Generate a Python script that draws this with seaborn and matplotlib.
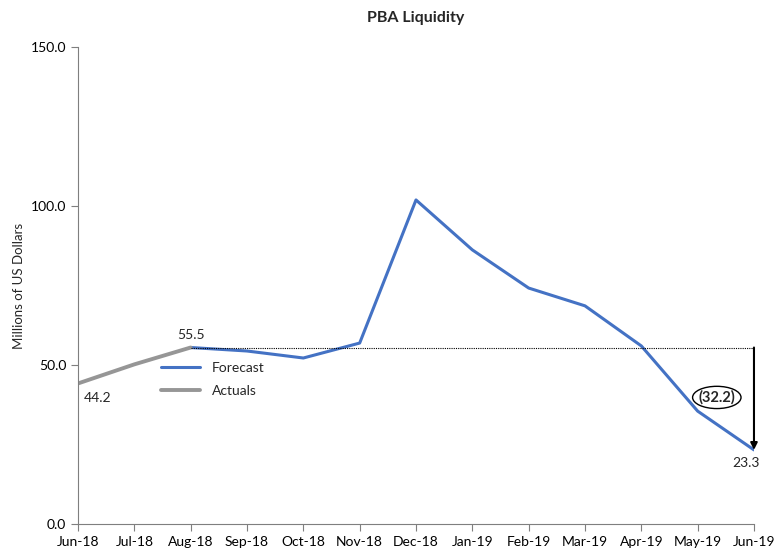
import matplotlib
matplotlib.use("Agg")
import matplotlib.pyplot as plt
import seaborn as sns
import pandas as pd
from matplotlib.patches import Ellipse

months = ["Jun-18", "Jul-18", "Aug-18", "Sep-18", "Oct-18", "Nov-18", "Dec-18",
          "Jan-19", "Feb-19", "Mar-19", "Apr-19", "May-19", "Jun-19"]
actual_months = ["Jun-18", "Jul-18", "Aug-18"]
actual_values = [44.2, 50.2, 55.5]
forecast_months = ["Aug-18", "Sep-18", "Oct-18", "Nov-18", "Dec-18", "Jan-19",
                   "Feb-19", "Mar-19", "Apr-19", "May-19", "Jun-19"]
forecast_values = [55.5, 54.4, 52.2, 56.9, 101.9, 86.2, 74.2, 68.6, 56.0, 35.5, 23.3]
yticks = [0, 50, 100, 150]
gap_label = "(32.2)"

sns.set_style("ticks")
plt.rcParams['font.family'] = ['Lato', 'DejaVu Sans']

idx = {m: i for i, m in enumerate(months)}
df_f = pd.DataFrame({"x": [idx[m] for m in forecast_months], "y": forecast_values})
df_a = pd.DataFrame({"x": [idx[m] for m in actual_months], "y": actual_values})

fig = plt.figure(figsize=(7.81, 5.52), dpi=100)
ax = fig.add_axes([0.0999, 0.0507, 0.8655, 0.8642])

sns.lineplot(data=df_f, x="x", y="y", ax=ax, color="#4472C4", linewidth=2.2, label="Forecast")
sns.lineplot(data=df_a, x="x", y="y", ax=ax, color="#969696", linewidth=2.8, label="Actuals")

ax.set_xlim(0, len(months) - 1)
ax.set_ylim(0, 150)
ax.set_xticks(range(len(months)))
ax.set_xticklabels(months, fontsize=10)
ax.set_yticks(yticks)
ax.set_yticklabels([f"{v:.1f}" for v in yticks], fontsize=10)
ax.set_xlabel("")
ax.set_ylabel("Millions of US Dollars", fontsize=9.5)
ax.set_title("PBA Liquidity", fontsize=11.5, fontweight="bold", pad=18)
sns.despine(ax=ax)
for s in ["left", "bottom"]:
    ax.spines[s].set_color("#7f7f7f")
ax.tick_params(colors="#7f7f7f", labelcolor="black", length=5)

# reference dotted line and arrow
start = forecast_values[0]
end = forecast_values[-1]
ax.plot([idx["Aug-18"], idx["Jun-19"]], [start, start], linestyle=(0, (1, 1)),
        color="black", linewidth=0.8)
ax.annotate("", xy=(idx["Jun-19"], end), xytext=(idx["Jun-19"], start),
            arrowprops=dict(arrowstyle="-|>", color="black", lw=1.5, mutation_scale=10,
                            shrinkA=0, shrinkB=0))
ax.text(11.34, 39.8, gap_label, fontsize=10.5, fontweight="bold", ha="center", va="center")
ax.add_patch(Ellipse((11.34, 39.8), 0.86, 7.0, fill=False, edgecolor="black", lw=1.0))

# data labels
ax.text(0.1, 41.5, f"{actual_values[0]:.1f}", fontsize=10, ha="left", va="top")
ax.text(2.0, 57.5, f"{actual_values[-1]:.1f}", fontsize=10, ha="center", va="bottom")
ax.text(11.85, 21.0, f"{forecast_values[-1]:.1f}", fontsize=10, ha="center", va="top")

leg = ax.legend(loc="upper left", bbox_to_anchor=(0.105, 0.366), frameon=False,
                fontsize=10, handlelength=2.8, labelspacing=0.8)

fig.savefig("out.png", dpi=100)
